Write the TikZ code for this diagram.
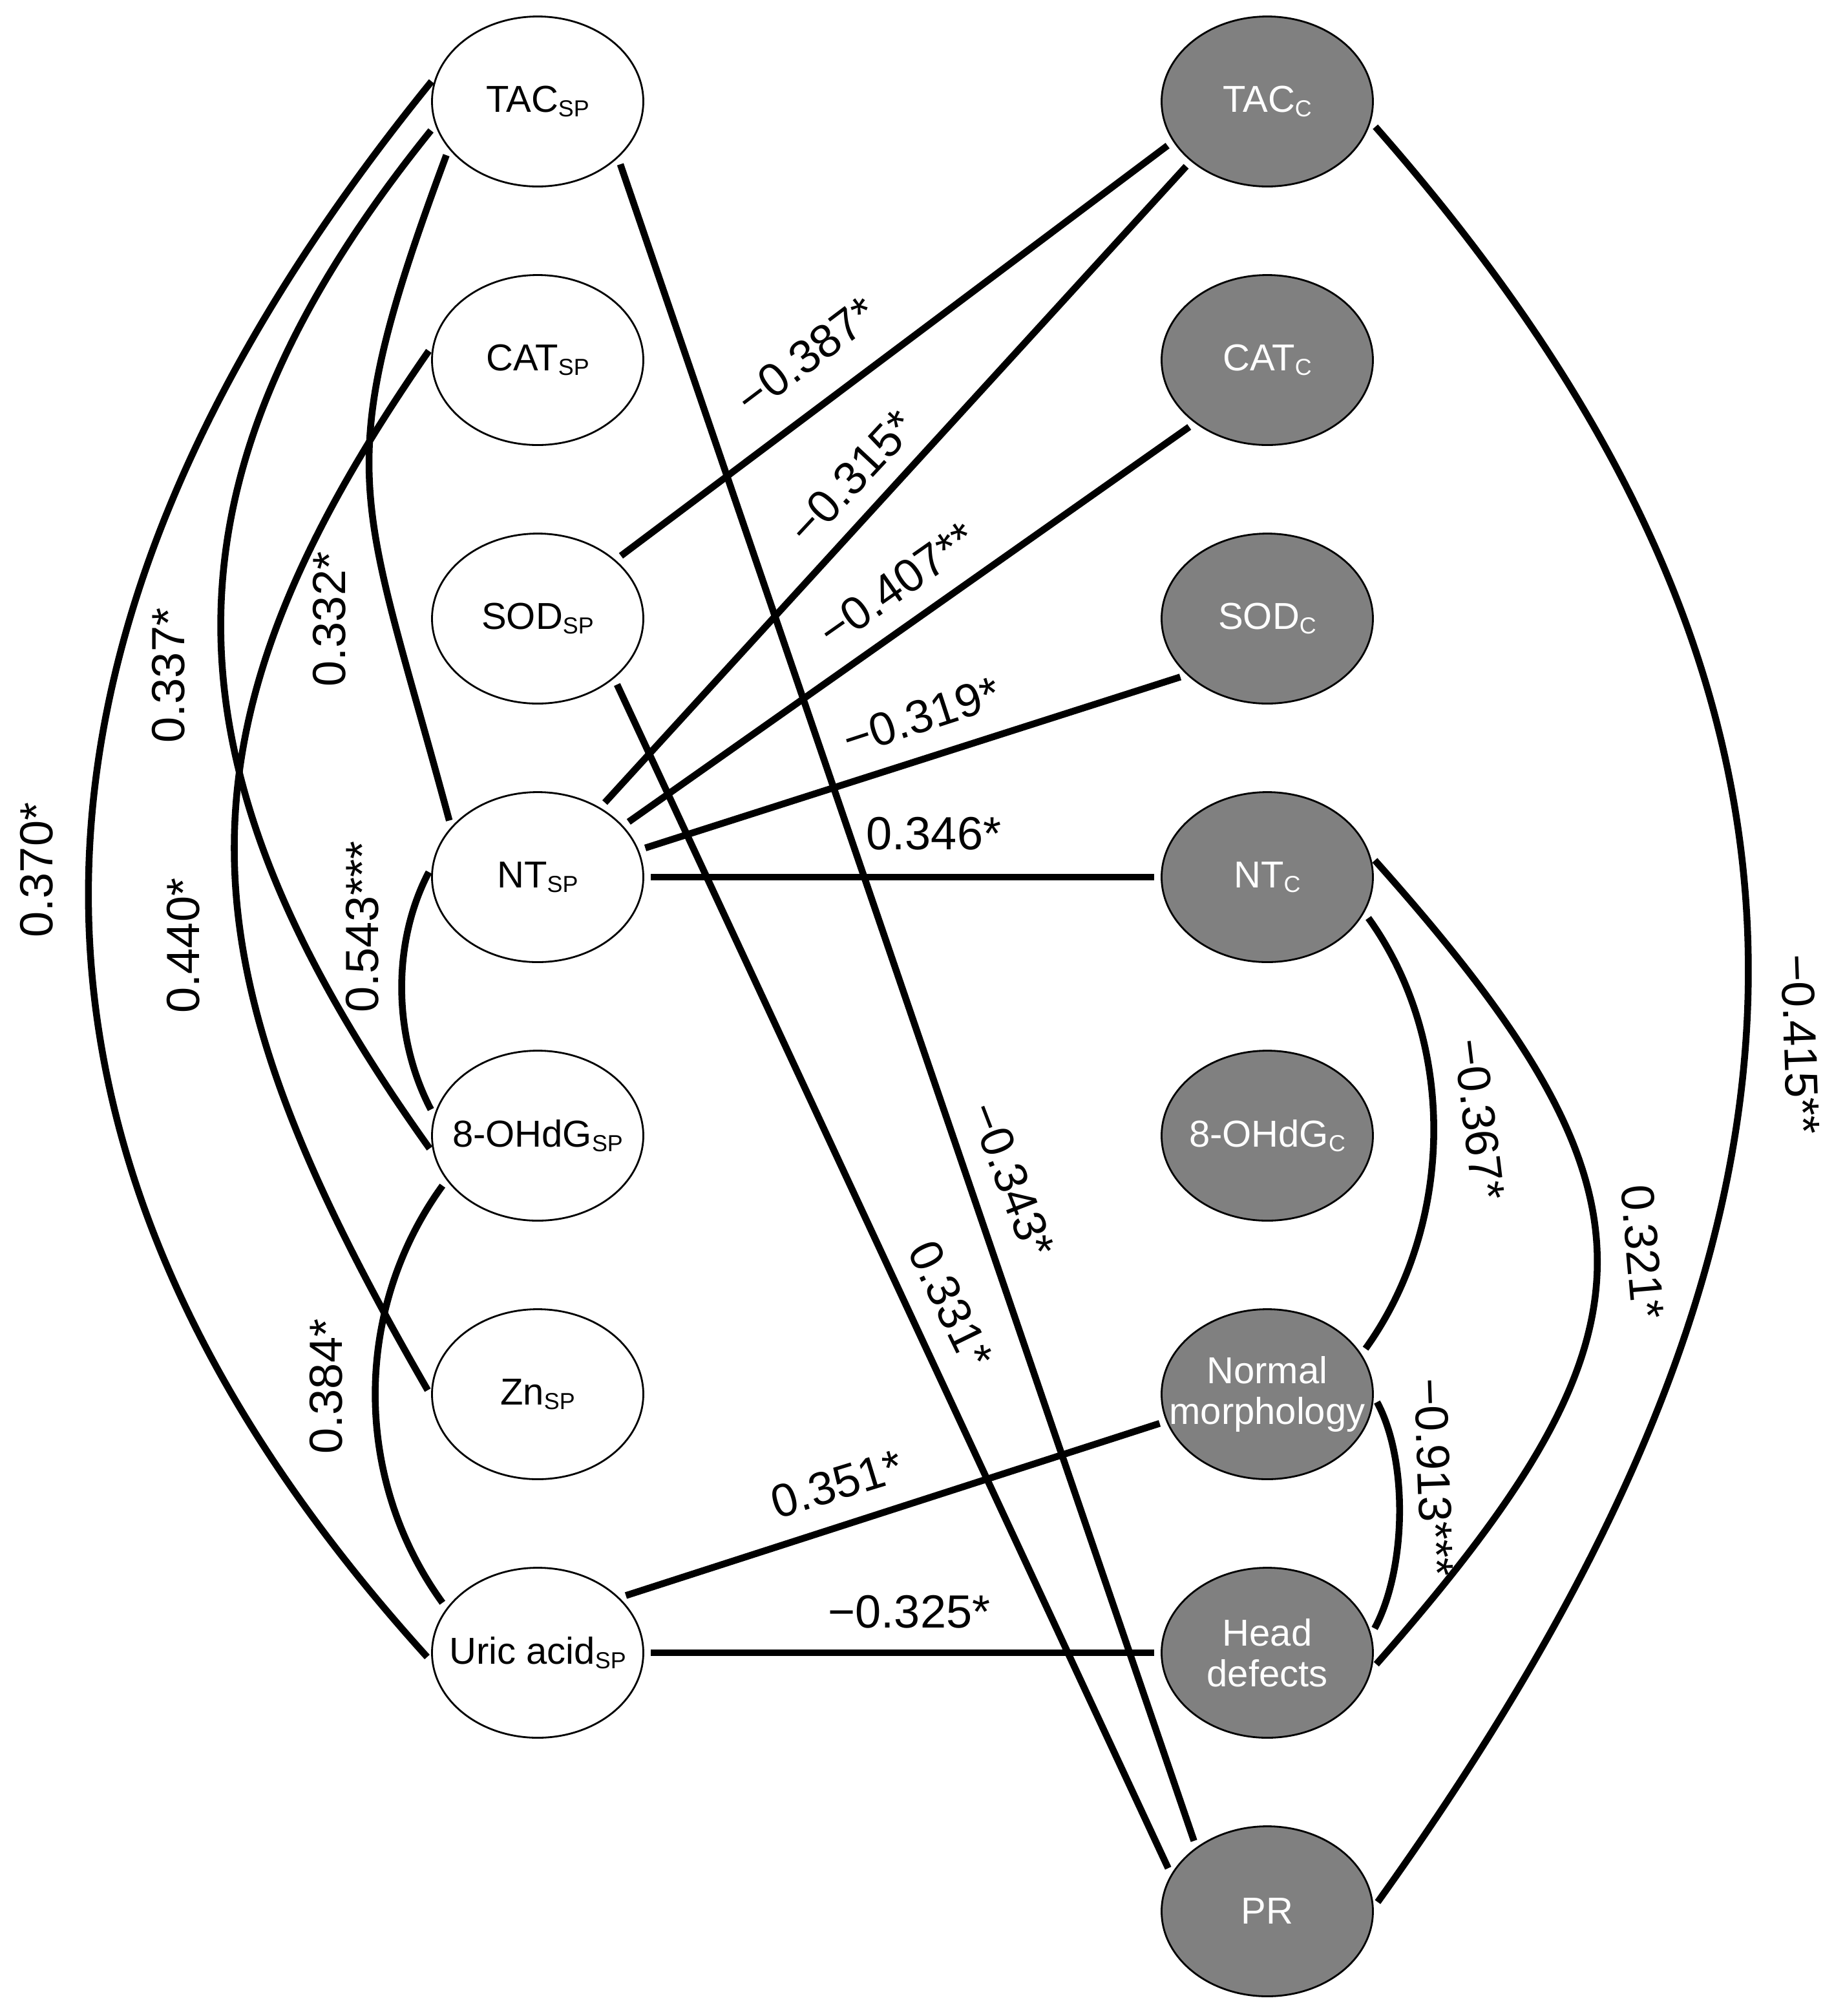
\documentclass[tikz,border=0pt]{standalone}
\usepackage{fontspec}
\setmainfont{Liberation Sans}
\usetikzlibrary{shapes.geometric}
\definecolor{cgrey}{HTML}{808080}
\newcommand{\lowtag}[1]{\raisebox{-2pt}{\fontsize{10.2}{10.2}\selectfont #1}}
\newcommand{\vtext}[1]{\makebox[0pt]{#1}}

\begin{document}
\begin{tikzpicture}[
  var/.style={ellipse,draw=black,line width=0.8pt,minimum width=3.27cm,
    minimum height=2.63cm,inner sep=0pt,align=center,
    font=\fontsize{16.5}{18}\selectfont},
  spvar/.style={var,fill=white},
  cvar/.style={var,fill=cgrey,text=white},
  link/.style={line width=3pt,shorten <=3pt,shorten >=3pt},
  coef/.style={inner sep=0pt,font=\fontsize{20.5}{24}\selectfont}
]
\useasboundingbox (0,0) rectangle (28.38,-31.19);

% seminal plasma
\node[spvar] (tacsp) at (8.32,-1.57) {\vtext{TAC\lowtag{SP}}};
\node[spvar] (catsp) at (8.32,-5.57) {\vtext{CAT\lowtag{SP}}};
\node[spvar] (sodsp) at (8.32,-9.57) {\vtext{SOD\lowtag{SP}}};
\node[spvar] (ntsp) at (8.32,-13.57) {\vtext{NT\lowtag{SP}}};
\node[spvar] (ohsp) at (8.32,-17.57) {\vtext{8-OHdG\lowtag{SP}}};
\node[spvar] (znsp) at (8.32,-21.57) {\vtext{Zn\lowtag{SP}}};
\node[spvar] (uasp) at (8.32,-25.57) {\vtext{Uric acid\lowtag{SP}}};

% cells
\node[cvar] (tacc) at (19.61,-1.57) {\vtext{TAC\lowtag{C}}};
\node[cvar] (catc) at (19.61,-5.57) {\vtext{CAT\lowtag{C}}};
\node[cvar] (sodc) at (19.61,-9.57) {\vtext{SOD\lowtag{C}}};
\node[cvar] (ntc) at (19.61,-13.57) {\vtext{NT\lowtag{C}}};
\node[cvar] (ohc) at (19.61,-17.57) {\vtext{8-OHdG\lowtag{C}}};
\node[cvar] (nmc) at (19.61,-21.57) {\vtext{Normal}\\\vtext{morphology}};
\node[cvar] (hdc) at (19.61,-25.57) {\vtext{Head}\\\vtext{defects}};
\node[cvar] (prc) at (19.61,-29.57) {\vtext{PR}};

% left arcs
\draw[link] (tacsp.166) .. controls +(-6.88,-8.47) and +(-7.32,8.08) .. (uasp.185);
\draw[link] (tacsp.193) .. controls +(-4.57,-5.66) and +(-4.20,5.87) .. (ohsp.190);
\draw[link] (tacsp.208) .. controls +(-1.89,-5.08) and +(-1.40,5.21) .. (ntsp.150);
\draw[link] (catsp.172) .. controls +(-4.33,-6.23) and +(-3.78,6.54) .. (znsp.181);
\draw[link] (ntsp.174) .. controls +(-0.63,-1.20) and +(-0.63,1.20) .. (ohsp.169);
\draw[link] (ohsp.206) .. controls +(-1.45,-2.00) and +(-1.45,2.00) .. (uasp.154);

% cross links
\draw[link] (sodsp.37) -- (tacc.203);
\draw[link] (ntsp.48) -- (tacc.218);
\draw[link] (ntsp.31) -- (catc.221);
\draw[link] (ntsp.15) -- (sodc.215);
\draw[link] (ntsp.0) -- (ntc.180);
\draw[link] (tacsp.-35) -- (prc.138);
\draw[link] (sodsp.-38) -- (prc.159);
\draw[link] (uasp.34) -- (nmc.195);
\draw[link] (uasp.0) -- (hdc.180);

% right arcs
\draw[link] (tacc.-11) .. controls +(8.23,-9.35) and +(7.23,10.10) .. (prc.2);
\draw[link] (ntc.12) .. controls +(4.68,-5.24) and +(4.61,5.24) .. (hdc.-9);
\draw[link] (ntc.-20) .. controls +(1.44,-2.00) and +(1.44,2.00) .. (nmc.23);
\draw[link] (nmc.-1) .. controls +(0.54,-1.00) and +(0.54,1.00) .. (hdc.10);

% coefficients
\node[coef,rotate=90] (c370) at (0.57,-13.46) {0.370*};
\node[coef,rotate=90] (c337) at (2.61,-10.45) {0.337*};
\node[coef,rotate=90] (c440) at (2.84,-14.63) {0.440*};
\node[coef,rotate=90] (c332) at (5.10,-9.58) {0.332*};
\node[coef,rotate=90] (c543) at (5.61,-14.34) {0.543***};
\node[coef,rotate=90] (c384) at (5.05,-21.45) {0.384*};
\node[coef,rotate=37] (c387) at (12.48,-5.50) {−0.387*};
\node[coef,rotate=47] (c315) at (13.18,-7.38) {−0.315*};
\node[coef,rotate=35] (c407) at (13.88,-9.04) {−0.407**};
\node[coef,rotate=18] (c319) at (14.26,-11.08) {−0.319*};
\node[coef] (c346) at (14.45,-12.90) {0.346*};
\node[coef,rotate=-69] (c343) at (15.66,-18.25) {−0.343*};
\node[coef,rotate=-64] (c331) at (14.71,-20.18) {0.331*};
\node[coef,rotate=17] (c351) at (12.95,-22.96) {0.351*};
\node[coef] (c325) at (14.07,-24.94) {−0.325*};
\node[coef,rotate=-88] (c415) at (27.86,-16.16) {−0.415**};
\node[coef,rotate=-83] (c367) at (22.89,-17.32) {−0.367*};
\node[coef,rotate=-85] (c321) at (25.42,-19.37) {0.321*};
\node[coef,rotate=-88] (c913) at (22.19,-22.86) {−0.913***};
\end{tikzpicture}
\end{document}
